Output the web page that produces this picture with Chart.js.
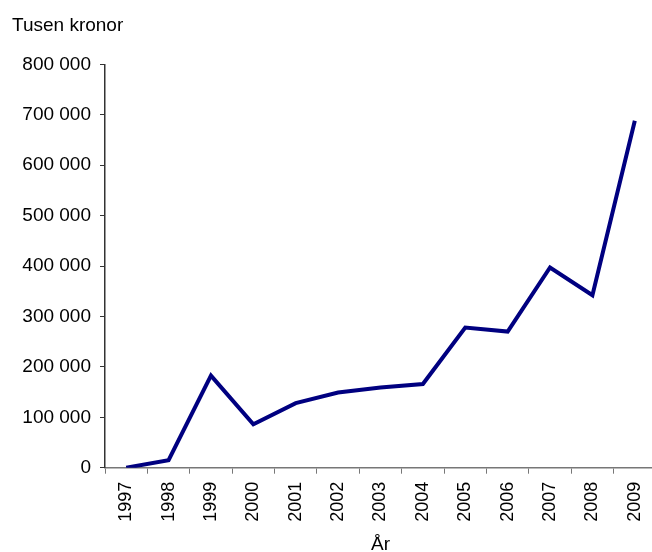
<!DOCTYPE html>
<html>
<head>
<meta charset="utf-8">
<script src="https://cdn.jsdelivr.net/npm/chart.js@4"></script>
<style>
html,body{margin:0;padding:0;background:#fff;overflow:hidden;}
#wrap{width:660px;height:552px;position:relative;}
</style>
</head>
<body>
<div id="wrap"><canvas id="c" width="660" height="552"></canvas></div>
<script>
const years = ['1997','1998','1999','2000','2001','2002','2003','2004','2005','2006','2007','2008','2009'];
const values = [0, 15000, 182500, 86000, 128000, 149000, 159000, 166000, 278000, 270000, 397000, 342000, 688000];
const yTicks = [0, 100000, 200000, 300000, 400000, 500000, 600000, 700000, 800000];
const yTitle = 'Tusen kronor';
const xTitle = 'År';

const fmt = v => v.toString().replace(/\B(?=(\d{3})+(?!\d))/g, ' ');
const FONT = '"Liberation Sans", Arial, sans-serif';
Chart.defaults.font.family = FONT;
Chart.defaults.color = '#000';

new Chart(document.getElementById('c'), {
  type: 'line',
  data: {
    labels: years,
    datasets: [{
      data: values,
      borderColor: '#000080',
      borderWidth: 4,
      pointRadius: 0,
      tension: 0,
      fill: false
    }]
  },
  options: {
    responsive: false,
    animation: false,
    layout: { padding: { left: 12, right: 4, top: 14, bottom: 0 } },
    plugins: {
      legend: { display: false },
      tooltip: { enabled: false },
      title: {
        display: true,
        text: yTitle,
        align: 'start',
        color: '#000',
        font: { size: 19, weight: 'normal', family: FONT, lineHeight: 1.2 },
        padding: { top: 0, bottom: 27.5 },
        fullSize: true
      }
    },
    scales: {
      x: {
        type: 'category',
        offset: true,
        afterFit: s => { s.height = 84.3; s.paddingLeft = 0; s.paddingRight = 0; },
        grid: { display: true, offset: true, drawOnChartArea: false, drawTicks: true, tickLength: 6, color: '#777' },
        border: { display: true, color: '#777', width: 1.5 },
        ticks: { minRotation: 90, maxRotation: 90, font: { size: 18 }, color: '#000', padding: 8 },
        title: { display: true, text: xTitle, font: { size: 19, lineHeight: 0.8 }, color: '#000', padding: { top: 0, bottom: 0 } }
      },
      y: {
        min: 0,
        max: 800000,
        afterBuildTicks: s => { s.ticks = yTicks.map(v => ({ value: v })); },
        afterFit: s => { s.width = 93; },
        grid: { display: true, drawOnChartArea: false, drawTicks: true, tickLength: 5, color: '#333' },
        border: { display: true, color: '#333', width: 1.5 },
        ticks: { font: { size: 19 }, color: '#000', padding: 9, callback: v => fmt(v) }
      }
    }
  }
});
</script>
</body>
</html>
